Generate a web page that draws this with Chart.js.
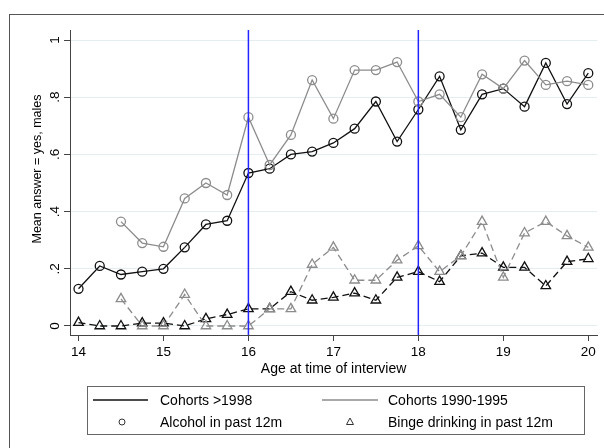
<!DOCTYPE html>
<html>
<head>
<meta charset="utf-8">
<script src="https://cdn.jsdelivr.net/npm/chart.js@4"></script>
<style>
  html, body { margin: 0; padding: 0; background: #fff; }
</style>
</head>
<body>
<canvas id="myChart" width="604" height="448"></canvas>
<script>
const ages = [14, 14.25, 14.5, 14.75, 15, 15.25, 15.5, 15.75, 16, 16.25, 16.5, 16.75,
    17, 17.25, 17.5, 17.75, 18, 18.25, 18.5, 18.75, 19, 19.25, 19.5, 19.75, 20];

// Cohorts >1998
const alcoholNew = [0.13, 0.21, 0.18, 0.19, 0.20, 0.275, 0.355, 0.368, 0.535, 0.55, 0.60, 0.61,
    0.64, 0.69, 0.785, 0.645, 0.757, 0.873, 0.686, 0.81, 0.83, 0.767, 0.92, 0.776, 0.884];
const bingeNew = [0.012, 0.0, 0.0, 0.01, 0.01, 0.0, 0.025, 0.04, 0.06, 0.06, 0.12, 0.09,
    0.10, 0.115, 0.09, 0.17, 0.19, 0.155, 0.245, 0.255, 0.205, 0.205, 0.14, 0.225, 0.235];

// Cohorts 1990-1995
const alcoholOld = [null, null, 0.365, 0.29, 0.277, 0.446, 0.50, 0.458, 0.73, 0.563, 0.668, 0.86,
    0.725, 0.895, 0.895, 0.923, 0.785, 0.81, 0.73, 0.88, 0.83, 0.928, 0.843, 0.856, 0.843];
const bingeOld = [null, null, 0.095, 0.0, 0.0, 0.11, 0.0, 0.0, 0.0, 0.06, 0.06, 0.215,
    0.275, 0.16, 0.16, 0.23, 0.28, 0.19, 0.245, 0.365, 0.17, 0.325, 0.365, 0.315, 0.275];

const xTicks = [14, 15, 16, 17, 18, 19, 20];
const yTicks = [0, 0.2, 0.4, 0.6, 0.8, 1];
const yTickLabels = ["0", ".2", ".4", ".6", ".8", "1"];
const refLines = [16, 18];

const yTitle = "Mean answer = yes, males";
const legendLines = ["Cohorts >1998", "Cohorts 1990-1995"];
const legendMarkers = ["Alcohol in past 12m", "Binge drinking in past 12m"];

const FONT = "'Liberation Sans', Arial, Helvetica, sans-serif";
const BLACK = "#111";
const GRAY = "#8c8c8c";

function points(values) {
    return ages.map((a, i) => ({ x: a, y: values[i] }));
}

function series(values, color, style, dashed) {
    return {
        data: points(values),
        borderColor: color,
        borderWidth: 1.3,
        borderDash: dashed ? [7, 4] : [],
        pointStyle: style,
        pointRadius: style === "triangle" ? 5.5 : 4.5,
        pointBorderColor: color,
        pointBackgroundColor: "rgba(0,0,0,0)",
        pointBorderWidth: 1.3,
        spanGaps: false,
        fill: false,
        tension: 0,
    };
}

const data = {
    datasets: [
        series(bingeOld, GRAY, "triangle", true),
        series(alcoholOld, GRAY, "circle", false),
        series(bingeNew, BLACK, "triangle", true),
        series(alcoholNew, BLACK, "circle", false),
    ],
};

const extras = {
    id: "extras",
    beforeDraw(chart) {
        const ctx = chart.ctx;
        ctx.save();
        ctx.fillStyle = "#fff";
        ctx.fillRect(0, 0, chart.width, chart.height);
        ctx.strokeStyle = "#555";
        ctx.lineWidth = 1;
        ctx.strokeRect(9.5, 14.5, 800, 800);
        ctx.restore();
    },
    afterDatasetsDraw(chart) {
        const ctx = chart.ctx;
        const xs = chart.scales.x;
        const area = chart.chartArea;
        ctx.save();
        ctx.strokeStyle = "#2424ff";
        ctx.lineWidth = 1.5;
        refLines.forEach(v => {
            const px = xs.getPixelForValue(v);
            ctx.beginPath();
            ctx.moveTo(px, area.top);
            ctx.lineTo(px, area.bottom);
            ctx.stroke();
        });
        ctx.restore();
    },
    afterDraw(chart) {
        const ctx = chart.ctx;
        ctx.save();

        // y axis title
        ctx.fillStyle = "#000";
        ctx.font = "12.5px " + FONT;
        ctx.textAlign = "center";
        ctx.textBaseline = "middle";
        ctx.save();
        ctx.translate(38, 169);
        ctx.rotate(-Math.PI / 2);
        ctx.fillText(yTitle, 0, 0);
        ctx.restore();

        // legend box
        ctx.strokeStyle = "#666";
        ctx.lineWidth = 1;
        ctx.strokeRect(87.5, 386.5, 497, 48);

        ctx.font = "14px " + FONT;
        ctx.textAlign = "left";

        // line keys
        ctx.lineWidth = 1.3;
        ctx.strokeStyle = BLACK;
        ctx.beginPath(); ctx.moveTo(93, 400); ctx.lineTo(148, 400); ctx.stroke();
        ctx.strokeStyle = GRAY;
        ctx.beginPath(); ctx.moveTo(322, 400); ctx.lineTo(378, 400); ctx.stroke();
        ctx.fillText(legendLines[0], 160, 401);
        ctx.fillText(legendLines[1], 388, 401);

        // marker keys
        ctx.strokeStyle = "#333";
        ctx.lineWidth = 1;
        ctx.beginPath(); ctx.arc(122, 422, 3, 0, Math.PI * 2); ctx.stroke();
        ctx.beginPath();
        ctx.moveTo(350, 418); ctx.lineTo(353.5, 424.5); ctx.lineTo(346.5, 424.5); ctx.closePath();
        ctx.stroke();
        ctx.fillText(legendMarkers[0], 160, 423);
        ctx.fillText(legendMarkers[1], 388, 423);
        ctx.restore();
    },
};

const config = {
    type: "line",
    data: data,
    options: {
        responsive: false,
        animation: false,
        devicePixelRatio: 1,
        layout: { padding: { top: 30, right: 4, left: 0, bottom: 0 } },
        plugins: { legend: { display: false }, tooltip: { enabled: false } },
        scales: {
            x: {
                type: "linear",
                min: 13.9,
                max: 20.105,
                afterBuildTicks: s => { s.ticks = xTicks.map(v => ({ value: v })); },
                afterFit: s => { s.height = 113; },
                border: { color: "#444", width: 1 },
                grid: { drawOnChartArea: false, drawTicks: true, tickLength: 6, tickColor: "#444" },
                ticks: {
                    color: "#000",
                    padding: 3,
                    maxRotation: 0,
                    font: { family: FONT, size: 13.5 },
                    callback: v => String(v),
                },
                title: {
                    display: true,
                    text: "Age at time of interview",
                    color: "#000",
                    font: { family: FONT, size: 14 },
                    padding: { top: 0, bottom: 70 },
                },
            },
            y: {
                min: -0.0315,
                max: 1.035,
                afterBuildTicks: s => { s.ticks = yTicks.map(v => ({ value: v })); },
                afterFit: s => { s.width = 70; },
                border: { color: "#444", width: 1 },
                grid: { color: "#e4eef0", lineWidth: 1, drawTicks: true, tickLength: 6, tickColor: "#444" },
                ticks: {
                    color: "#000",
                    padding: 3,
                    minRotation: 90,
                    maxRotation: 90,
                    crossAlign: "center",
                    font: { family: FONT, size: 13.5 },
                    callback: (v, i) => yTickLabels[i],
                },
            },
        },
    },
    plugins: [extras],
};

const myChart = new Chart(document.getElementById("myChart"), config);
</script>
</body>
</html>
